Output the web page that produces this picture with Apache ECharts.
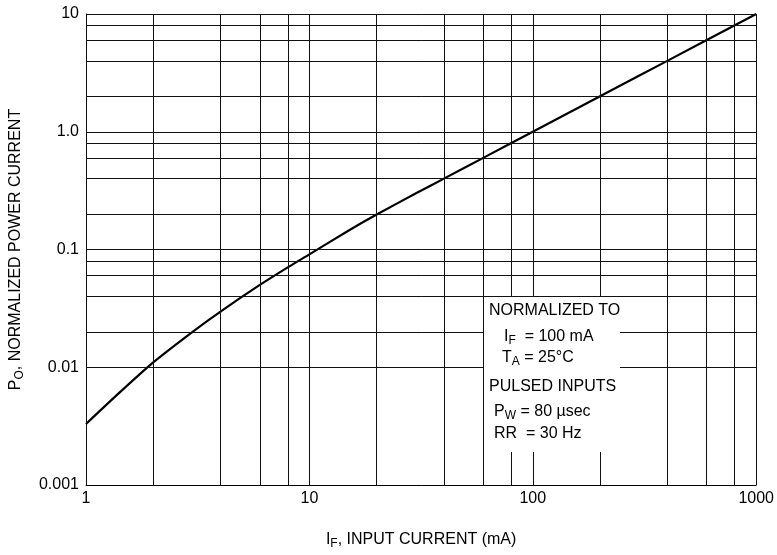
<!DOCTYPE html>
<html>
<head>
<meta charset="utf-8">
<script src="https://cdn.jsdelivr.net/npm/echarts@6/dist/echarts.min.js"></script>
<style>
  html, body { margin: 0; padding: 0; background: #fff; }
  #chart { width: 777px; height: 555px; }
</style>
</head>
<body>
<div id="chart"></div>
<script>
// input current (mA) and normalized power output
const inputCurrent = [1, 1.4, 2, 3, 4, 6, 8, 10, 15, 20, 30, 40, 60, 100, 200, 400, 1000];
const powerOut = [0.0033, 0.006, 0.011, 0.020, 0.0297, 0.050, 0.0705, 0.091, 0.145, 0.198, 0.300, 0.4, 0.6, 1.0, 2.0, 4.0, 10];

// grid lines of the log paper
const gridX = [1, 2, 4, 6, 8, 10, 20, 40, 60, 80, 100, 200, 400, 600, 800, 1000];
const gridY = [0.001, 0.002, 0.004, 0.006, 0.008, 0.01, 0.02, 0.04, 0.06, 0.08,
  0.1, 0.2, 0.4, 0.6, 0.8, 1, 2, 4, 6, 8, 10];

const xTickLabels = { 1: "1", 10: "10", 100: "100", 1000: "1000" };
const yTickLabels = { 0.001: "0.001", 0.01: "0.01", 0.1: "0.1", 1: "1.0", 10: "10" };

// the note box, in data units: [x from, x to], [y from, y to]
const noteBoxX = [60, 246];
const noteBoxY = [0.0019, 0.04];

const FONT = "'Liberation Sans', Arial, sans-serif";

const chart = echarts.init(document.getElementById("chart"), null, { renderer: "canvas" });

const subRich = {
  m: { fontFamily: FONT, fontSize: 16, color: "#000", lineHeight: 20, verticalAlign: "middle" },
  s: { fontFamily: FONT, fontSize: 12, color: "#000", lineHeight: 12, verticalAlign: "bottom" },
};

chart.setOption({
  backgroundColor: "#fff",
  animation: false,
  grid: { left: 85, right: 17, top: 14, bottom: 68 },
  xAxis: {
    type: "log",
    logBase: 10,
    min: 1,
    max: 1000,
    name: "{m|I}{s|F}{m|, INPUT CURRENT (mA)}",
    nameLocation: "middle",
    nameGap: 45,
    nameTextStyle: { rich: subRich },
    axisLine: { show: true, lineStyle: { color: "#000", width: 1 } },
    axisTick: { show: false },
    splitLine: { show: false },
    axisLabel: {
      margin: 6,
      color: "#000",
      fontFamily: FONT,
      fontSize: 16,
      formatter: v => xTickLabels[Math.round(v)] || "",
    },
  },
  yAxis: {
    type: "log",
    logBase: 10,
    min: 0.001,
    max: 10,
    name: "{m|P}{s|O}{m|, NORMALIZED POWER CURRENT}",
    nameLocation: "middle",
    nameGap: 60,
    nameTextStyle: { rich: subRich },
    axisLine: { show: true, lineStyle: { color: "#000", width: 1 } },
    axisTick: { show: false },
    splitLine: { show: false },
    axisLabel: {
      margin: 7,
      color: "#000",
      fontFamily: FONT,
      fontSize: 16,
      formatter: v => {
        const key = Object.keys(yTickLabels).find(k => Math.abs(Math.log10(+k) - Math.log10(v)) < 1e-6);
        return key ? yTickLabels[key] : "";
      },
    },
  },
  series: [
    {
      // log paper grid, drawn through the axes
      type: "line",
      data: [],
      silent: true,
      z: 1,
      markLine: {
        silent: true,
        symbol: "none",
        animation: false,
        label: { show: false },
        lineStyle: { color: "#111", width: 1, type: "solid" },
        data: gridX.map(v => ({ xAxis: v })).concat(gridY.map(v => ({ yAxis: v }))),
      },
    },
    {
      type: "line",
      data: inputCurrent.map((x, i) => [x, powerOut[i]]),
      showSymbol: false,
      smooth: 0.25,
      z: 3,
      lineStyle: { color: "#000", width: 2.2 },
    },
  ],
});

// white note box with the test conditions
function drawNote() {
  const p0 = chart.convertToPixel({ xAxisIndex: 0, yAxisIndex: 0 }, [noteBoxX[0], noteBoxY[1]]);
  const p1 = chart.convertToPixel({ xAxisIndex: 0, yAxisIndex: 0 }, [noteBoxX[1], noteBoxY[0]]);
  const left = Math.round(p0[0]) + 1;
  const top = Math.round(p0[1]) + 1;
  const line = (dx, dy, text) => ({
    type: "text",
    x: left + dx,
    y: top + dy,
    z: 101,
    style: { text, rich: subRich, verticalAlign: "middle" },
  });
  chart.setOption({
    graphic: [
      {
        type: "rect",
        z: 100,
        shape: { x: left, y: top, width: Math.round(p1[0]) - left, height: Math.round(p1[1]) - top },
        style: { fill: "#fff" },
      },
      line(5, 14, "{m|NORMALIZED TO}"),
      line(20, 40, "{m|I}{s|F}{m|  = 100 mA}"),
      line(18, 61, "{m|T}{s|A}{m| = 25°C}"),
      line(5, 90, "{m|PULSED INPUTS}"),
      line(10, 115, "{m|P}{s|W}{m| = 80 µsec}"),
      line(10, 137, "{m|RR  = 30 Hz}"),
    ],
  });
}
drawNote();
</script>
</body>
</html>
